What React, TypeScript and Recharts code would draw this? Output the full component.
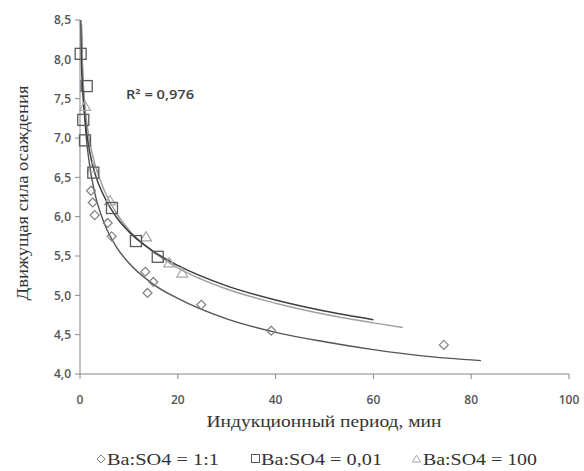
import React from "react";
import {
  ComposedChart,
  XAxis,
  YAxis,
  Line,
  Scatter,
  Customized,
} from "recharts";

// Measured points
const diamondPoints = [
  { x: 2.25, y: 6.33 },
  { x: 2.6, y: 6.18 },
  { x: 3.0, y: 6.02 },
  { x: 5.66, y: 5.92 },
  { x: 6.48, y: 5.75 },
  { x: 13.35, y: 5.3 },
  { x: 15.0, y: 5.17 },
  { x: 13.8, y: 5.03 },
  { x: 24.8, y: 4.88 },
  { x: 39.1, y: 4.55 },
  { x: 74.4, y: 4.37 },
];

const squarePoints = [
  { x: 0.14, y: 8.07 },
  { x: 1.37, y: 7.66 },
  { x: 0.67, y: 7.23 },
  { x: 1.02, y: 6.97 },
  { x: 2.72, y: 6.56 },
  { x: 6.54, y: 6.11 },
  { x: 11.44, y: 5.69 },
  { x: 15.9, y: 5.49 },
];

const trianglePoints = [
  { x: 1.02, y: 7.4 },
  { x: 2.6, y: 6.62 },
  { x: 6.13, y: 6.2 },
  { x: 13.5, y: 5.74 },
  { x: 18.25, y: 5.41 },
  { x: 20.9, y: 5.28 },
];

// Trend lines
const diamondTrend = [
  { x: 0.3, y: 8.45 },
  { x: 0.5, y: 7.92 },
  { x: 1, y: 7.25 },
  { x: 2, y: 6.64 },
  { x: 3, y: 6.31 },
  { x: 5, y: 5.91 },
  { x: 7.5, y: 5.61 },
  { x: 10, y: 5.41 },
  { x: 15, y: 5.14 },
  { x: 20, y: 4.96 },
  { x: 30, y: 4.7 },
  { x: 40, y: 4.53 },
  { x: 50, y: 4.41 },
  { x: 60, y: 4.31 },
  { x: 70, y: 4.23 },
  { x: 82, y: 4.17 },
];

const squareTrend = [
  { x: 0.1, y: 8.5 },
  { x: 0.3, y: 7.95 },
  { x: 0.6, y: 7.55 },
  { x: 1, y: 7.25 },
  { x: 2, y: 6.82 },
  { x: 3, y: 6.56 },
  { x: 5, y: 6.25 },
  { x: 7.5, y: 5.99 },
  { x: 10, y: 5.81 },
  { x: 15, y: 5.56 },
  { x: 20, y: 5.38 },
  { x: 30, y: 5.12 },
  { x: 40, y: 4.94 },
  { x: 50, y: 4.8 },
  { x: 60, y: 4.69 },
];

const triangleTrend = [
  { x: 0.2, y: 8.5 },
  { x: 0.5, y: 7.9 },
  { x: 1, y: 7.42 },
  { x: 2, y: 6.95 },
  { x: 3, y: 6.68 },
  { x: 5, y: 6.33 },
  { x: 7.5, y: 6.04 },
  { x: 10, y: 5.83 },
  { x: 15, y: 5.55 },
  { x: 20, y: 5.35 },
  { x: 30, y: 5.08 },
  { x: 40, y: 4.9 },
  { x: 50, y: 4.76 },
  { x: 60, y: 4.65 },
  { x: 66, y: 4.59 },
];

const xTicks = [0, 20, 40, 60, 80, 100];
const yTicks = [4, 4.5, 5, 5.5, 6, 6.5, 7, 7.5, 8, 8.5];

const seriesNames = ["Ba:SO4 = 1:1", "Ba:SO4 = 0,01", "Ba:SO4 = 100"];
const xTitle = "Индукционный период, мин";
const yTitle = "Движущая сила осаждения";
const r2Label = "R² = 0,976";

const DIAMOND_C = "#808080";
const SQUARE_C = "#5a5a5a";
const TRI_C = "#a8a8a8";

const Diamond = (props: any) => {
  const { cx, cy } = props;
  const r = 4.5;
  return (
    <path
      d={`M${cx},${cy - r} L${cx + r},${cy} L${cx},${cy + r} L${cx - r},${cy} Z`}
      fill="none"
      stroke={DIAMOND_C}
      strokeWidth={1.2}
    />
  );
};

const Square = (props: any) => {
  const { cx, cy } = props;
  const r = 5.5;
  return (
    <rect
      x={cx - r}
      y={cy - r}
      width={2 * r}
      height={2 * r}
      fill="none"
      stroke={SQUARE_C}
      strokeWidth={1.3}
    />
  );
};

const Triangle = (props: any) => {
  const { cx, cy } = props;
  const r = 5.5;
  return (
    <path
      d={`M${cx},${cy - r} L${cx + r},${cy + r * 0.7} L${cx - r},${cy + r * 0.7} Z`}
      fill="none"
      stroke={TRI_C}
      strokeWidth={1.2}
    />
  );
};

const Overlay = () => (
  <g>
    <text
      x={126}
      y={99}
      fontFamily="Open Sans"
      fontSize={12}
      fontWeight={600}
      fill="#404040"
      textLength={68}
      lengthAdjust="spacingAndGlyphs"
    >
      {r2Label}
    </text>
    <text
      x={324}
      y={427}
      textAnchor="middle"
      fontFamily="Liberation Serif"
      fontSize={16}
      fill="#333"
      textLength={235}
      lengthAdjust="spacingAndGlyphs"
    >
      {xTitle}
    </text>
    <text
      transform="translate(28,193) rotate(-90)"
      textAnchor="middle"
      fontFamily="Liberation Serif"
      fontSize={16}
      fill="#333"
      textLength={215}
      lengthAdjust="spacingAndGlyphs"
    >
      {yTitle}
    </text>
    {/* legend */}
    <path d="M101,455 L105,459 L101,463 L97,459 Z" fill="none" stroke={DIAMOND_C} strokeWidth={1} />
    <text x={107} y={465} fontFamily="Liberation Serif" fontSize={16} fill="#333" textLength={112} lengthAdjust="spacingAndGlyphs">
      {seriesNames[0]}
    </text>
    <rect x={251.5} y={454.5} width={8} height={8} fill="none" stroke={SQUARE_C} strokeWidth={1} />
    <text x={261} y={465} fontFamily="Liberation Serif" fontSize={16} fill="#333" textLength={121} lengthAdjust="spacingAndGlyphs">
      {seriesNames[1]}
    </text>
    <path d="M416.5,455 L420.5,462 L412.5,462 Z" fill="none" stroke={TRI_C} strokeWidth={1} />
    <text x={423} y={465} fontFamily="Liberation Serif" fontSize={16} fill="#333" textLength={114} lengthAdjust="spacingAndGlyphs">
      {seriesNames[2]}
    </text>
  </g>
);

export default function App() {
  return (
    <div style={{ position: "absolute", left: 0, top: 0, background: "#fff" }}>
      <ComposedChart
        width={584}
        height={471}
        margin={{ top: 20, right: 15, bottom: 67, left: 0 }}
      >
        <XAxis
          type="number"
          dataKey="x"
          domain={[0, 100]}
          ticks={xTicks}
          height={30}
          stroke="#888"
          tickSize={5}
          tickMargin={16}
          tick={{ fill: "#555", fontSize: 12, fontFamily: "Open Sans", fontWeight: 600 }}
        />
        <YAxis
          type="number"
          dataKey="y"
          domain={[4, 8.5]}
          ticks={yTicks}
          width={80}
          stroke="#888"
          tickSize={5}
          tickMargin={4}
          tick={{ fill: "#555", fontSize: 12, fontFamily: "Open Sans", fontWeight: 600 }}
          tickFormatter={(v: number) => v.toFixed(1).replace(".", ",")}
        />
        <Line
          data={diamondTrend}
          dataKey="y"
          type="monotone"
          dot={false}
          stroke="#555"
          strokeWidth={1.4}
          isAnimationActive={false}
          legendType="none"
        />
        <Line
          data={triangleTrend}
          dataKey="y"
          type="monotone"
          dot={false}
          stroke="#a0a0a0"
          strokeWidth={1.5}
          isAnimationActive={false}
          legendType="none"
        />
        <Line
          data={squareTrend}
          dataKey="y"
          type="monotone"
          dot={false}
          stroke="#3c3c3c"
          strokeWidth={1.5}
          isAnimationActive={false}
          legendType="none"
        />
        <Scatter data={diamondPoints} dataKey="y" shape={Diamond} isAnimationActive={false} />
        <Scatter data={trianglePoints} dataKey="y" shape={Triangle} isAnimationActive={false} />
        <Scatter data={squarePoints} dataKey="y" shape={Square} isAnimationActive={false} />
        <Customized component={Overlay} />
      </ComposedChart>
    </div>
  );
}
